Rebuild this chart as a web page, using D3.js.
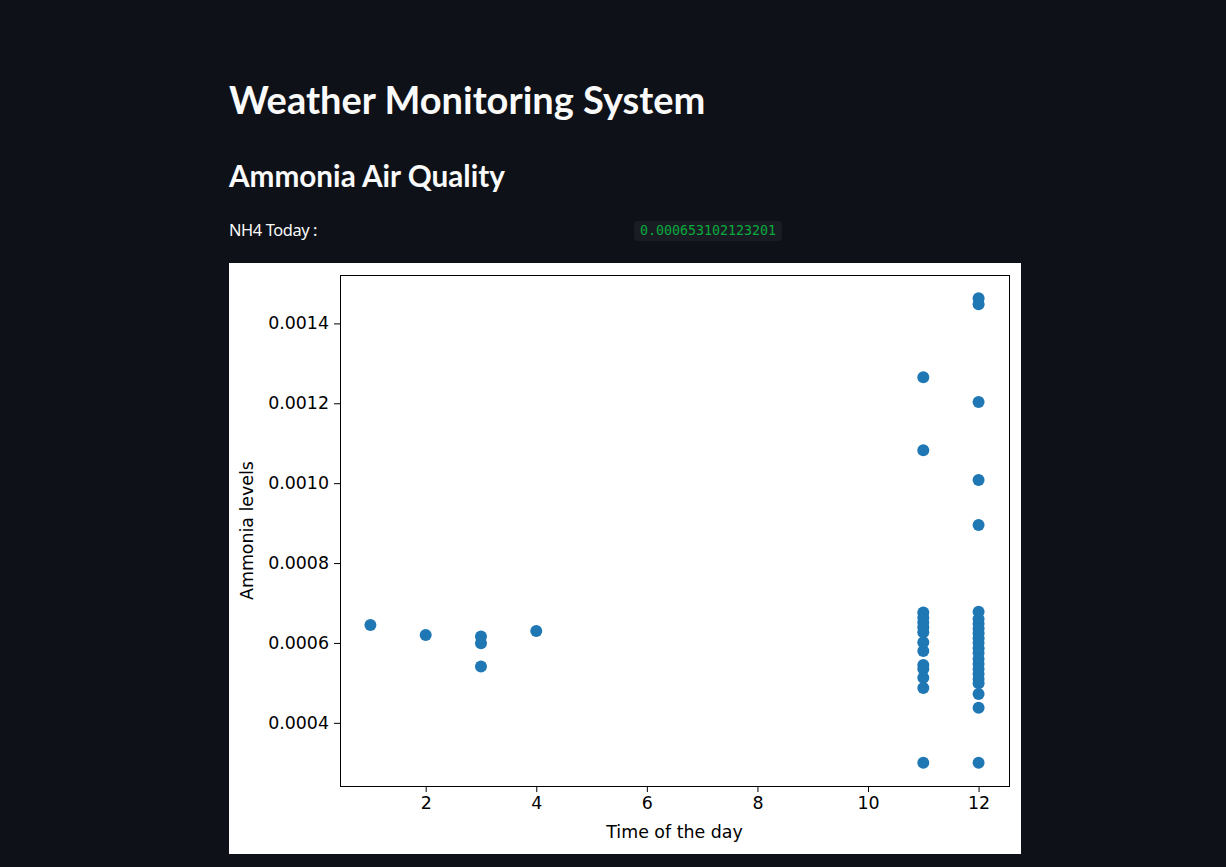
<!DOCTYPE html>
<html>
<head>
<meta charset="utf-8">
<script src="https://cdn.jsdelivr.net/npm/d3@7"></script>
<style>
  body { margin: 0; background: #0e1117; width: 1226px; height: 867px; overflow: hidden; font-family: "Noto Sans", sans-serif; color: #fafafa; }
  h1 { position: absolute; left: 229px; top: 71px; margin: 0; font-family: Lato, sans-serif; font-size: 38px; font-weight: 700; line-height: 56px; }
  h2 { position: absolute; left: 229px; top: 157px; margin: 0; font-family: Lato, sans-serif; font-size: 29.7px; font-weight: 700; line-height: 38px; }
  .label { position: absolute; left: 229px; top: 218px; font-size: 16.4px; line-height: 24px; letter-spacing: -0.4px; }
  .code { position: absolute; left: 634px; top: 221px; width: 148px; height: 20px; background: #1a1c24; border-radius: 4px;
          font-family: "DejaVu Sans Mono", monospace; font-size: 13.3px; line-height: 20px; color: #09ab3b; text-indent: 6px; }
  #chart { position: absolute; left: 229px; top: 263px; }
</style>
</head>
<body>
<h1>Weather Monitoring System</h1>
<h2>Ammonia Air Quality</h2>
<div class="label">NH4 Today :</div>
<div class="code">0.000653102123201</div>
<div id="chart"></div>
<script>
// readings: hour of the day and ammonia level
const timeOfDay = [
  1, 2, 3, 3, 3, 4,
  11, 11, 11, 11, 11, 11, 11, 11, 11, 11, 11, 11, 11, 11,
  12, 12, 12, 12, 12, 12, 12, 12, 12, 12, 12, 12, 12, 12, 12, 12, 12, 12, 12, 12, 12, 12, 12
];
const ammoniaLevels = [
  0.000645, 0.00062, 0.000616, 0.000599, 0.000541, 0.00063,
  0.001265, 0.0010825, 0.000676, 0.000663, 0.000651, 0.000639, 0.000627, 0.000602, 0.00058, 0.000545, 0.000535, 0.000513, 0.000487, 0.0003,
  0.001463, 0.001448, 0.001203, 0.001008, 0.000895, 0.000678, 0.000660, 0.000648, 0.000636, 0.000624, 0.000612, 0.0006, 0.000587,
  0.000575, 0.00056, 0.000547, 0.000535, 0.000522, 0.00051, 0.000499, 0.000472, 0.000438, 0.0003
];
const xTicks = [2, 4, 6, 8, 10, 12];
const yTicks = [0.0004, 0.0006, 0.0008, 0.0010, 0.0012, 0.0014];

const data = timeOfDay.map((t, i) => ({ t: t, v: ammoniaLevels[i] }));

const width = 792;
const height = 591;
const margin = { top: 12, right: 12, bottom: 68, left: 111 };
const font = "'DejaVu Sans', sans-serif";

const svg = d3.select("#chart")
  .append("svg")
  .attr("width", width)
  .attr("height", height)
  .style("background", "#ffffff");

// matplotlib style 5% padding around the data
const padScale = (lo, hi) => { const p = (hi - lo) * 0.05; return [lo - p, hi + p]; };

const x = d3.scaleLinear()
  .domain(padScale(d3.min(timeOfDay), d3.max(timeOfDay)))
  .range([margin.left, width - margin.right]);

const y = d3.scaleLinear()
  .domain(padScale(d3.min(ammoniaLevels), d3.max(ammoniaLevels)))
  .range([height - margin.bottom, margin.top]);

const xAxis = g => g
  .attr("transform", `translate(0,${height - margin.bottom})`)
  .call(d3.axisBottom(x).tickValues(xTicks).tickFormat(d3.format("d")).tickSize(6).tickPadding(5))
  .attr("font-family", font)
  .attr("font-size", 17.4)
  .call(g => g.select(".domain").remove())
  .call(g => g.selectAll("line").attr("stroke", "#000").attr("stroke-width", 1))
  .call(g => g.selectAll("text").attr("fill", "#000"))
  .call(g => g.append("text")
    .attr("x", (margin.left + width - margin.right) / 2)
    .attr("y", 52)
    .attr("fill", "#000")
    .attr("text-anchor", "middle")
    .text("Time of the day"));

const yAxis = g => g
  .attr("transform", `translate(${margin.left},0)`)
  .call(d3.axisLeft(y).tickValues(yTicks).tickFormat(d3.format(".4f")).tickSize(6).tickPadding(5))
  .attr("font-family", font)
  .attr("font-size", 17.4)
  .call(g => g.select(".domain").remove())
  .call(g => g.selectAll("line").attr("stroke", "#000").attr("stroke-width", 1))
  .call(g => g.selectAll("text").attr("fill", "#000"))
  .call(g => g.append("text")
    .attr("transform", `translate(${-87},${(margin.top + height - margin.bottom) / 2}) rotate(-90)`)
    .attr("fill", "#000")
    .attr("text-anchor", "middle")
    .text("Ammonia levels"));

svg.append("g").call(xAxis);
svg.append("g").call(yAxis);

svg.append("g")
  .selectAll("circle")
  .data(data)
  .join("circle")
  .attr("cx", d => x(d.t))
  .attr("cy", d => y(d.v))
  .attr("r", 6)
  .attr("fill", "#1f77b4");

// axes frame
svg.append("rect")
  .attr("x", margin.left + 0.5)
  .attr("y", margin.top + 0.5)
  .attr("width", width - margin.left - margin.right)
  .attr("height", height - margin.top - margin.bottom)
  .attr("fill", "none")
  .attr("stroke", "#000")
  .attr("stroke-width", 1);
</script>
</body>
</html>
